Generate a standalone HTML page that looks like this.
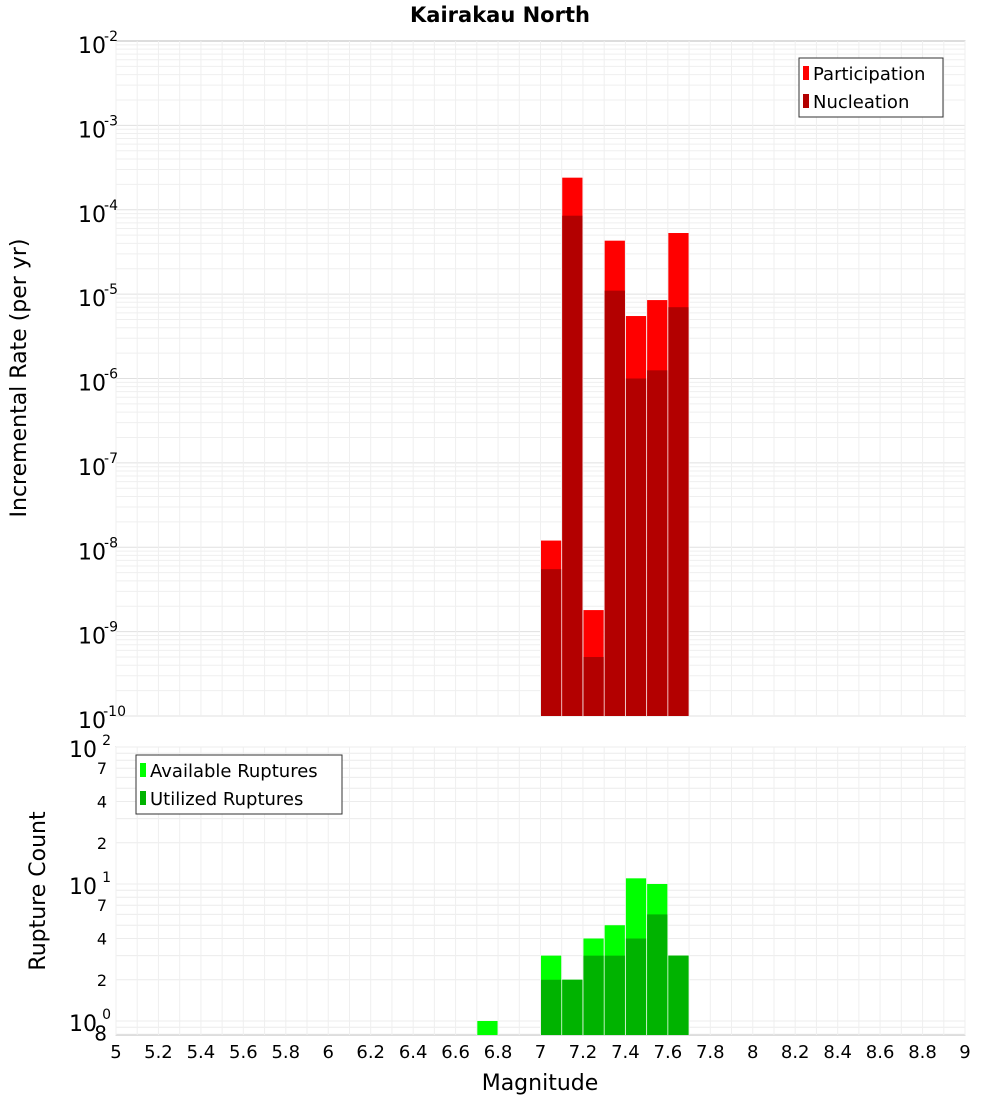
<!DOCTYPE html>
<html><head><meta charset="utf-8"><style>
body{margin:0;background:#fff;font-family:"Liberation Sans","DejaVu Sans",sans-serif}
</style></head><body>
<svg id="c" width="1000" height="1100" xmlns="http://www.w3.org/2000/svg" font-family="DejaVu Sans, Liberation Sans, sans-serif"></svg>
<script>
const binCenters=[7.05,7.15,7.25,7.35,7.45,7.55,7.65];
const participation=[1.2e-8,2.4e-4,1.8e-9,4.3e-5,5.5e-6,8.5e-6,5.3e-5];
const nucleation=[5.5e-9,8.5e-5,5e-10,1.1e-5,1e-6,1.25e-6,7e-6];
const countBins=[6.75,7.05,7.15,7.25,7.35,7.45,7.55,7.65];
const available=[1,3,2,4,5,11,10,3];
const utilized=[0,2,2,3,3,4,6,3];
const xTicks=[5,5.2,5.4,5.6,5.8,6,6.2,6.4,6.6,6.8,7,7.2,7.4,7.6,7.8,8,8.2,8.4,8.6,8.8,9];

const svg=document.getElementById('c');const NS='http://www.w3.org/2000/svg';
function el(t,a,p){const e=document.createElementNS(NS,t);for(const k in a)e.setAttribute(k,a[k]);(p||svg).appendChild(e);return e;}
const X0=116,X1=965;
const xs=m=>X0+(m-5)/4*(X1-X0);
const T0=41,T1=716;
const ty=v=>T0+(-2-Math.log10(v))*(T1-T0)/8;
const B0=747,B1=1035,DEC=137;
const by=v=>B0+(2-Math.log10(v))*DEC;
const bw=(X1-X0)/40;

// panels
let g=el('g',{});
el('rect',{x:X0,y:T0,width:X1-X0,height:T1-T0,fill:'#fff',stroke:'#bbb'},g);
for(let d=-10;d<-2;d++)for(let k=1;k<10;k++){const y=ty(k*Math.pow(10,d));el('line',{x1:X0,x2:X1,y1:y,y2:y,stroke:k==1?'#e0e0e0':'#efefef'},g);}
for(let m=5;m<=9.001;m+=0.1){const x=xs(m);el('line',{x1:x,x2:x,y1:T0,y2:T1,stroke:'#efefef'},g);}
binCenters.forEach((c,i)=>{
 const x=xs(c)-bw/2+0.5;
 const r=el('rect',{x:x,y:ty(participation[i]),width:bw-1,height:T1-ty(participation[i]),fill:'#ff0000'},g);
 
 const n=el('rect',{x:x,y:ty(nucleation[i]),width:bw-1,height:T1-ty(nucleation[i]),fill:'#b30000'},g);
 
});
for(let d=-10;d<=-2;d++){const y=ty(Math.pow(10,d));
 const t=el('text',{x:X0-10,y:y+12,'text-anchor':'end','font-size':22},g);t.textContent='10';
 
 const s=el('text',{x:X0-15,y:y,'text-anchor':'start','font-size':14},g);s.textContent=String(d);
 s.setAttribute('x',X0-14);s.setAttribute('text-anchor','end');s.setAttribute('x',X0+(String(d).length*8)-14);
}
// legend top
let lg=el('g',{});
el('rect',{x:799,y:58,width:144,height:59,fill:'#fff',stroke:'#333'},lg);
el('rect',{x:803,y:66,width:6,height:14,fill:'#ff0000'},lg);
el('rect',{x:803,y:94,width:6,height:14,fill:'#b30000'},lg);
let t=el('text',{x:813,y:80,'font-size':18},lg);t.textContent='Participation';
t=el('text',{x:813,y:108,'font-size':18},lg);t.textContent='Nucleation';

// bottom
let g2=el('g',{});
el('rect',{x:X0,y:B0,width:X1-X0,height:B1-B0,fill:'#fff',stroke:'#bbb'},g2);
[1,2,3,4,5,6,7,8,9,10,20,30,40,50,60,70,80,90,100,0.8,0.9].forEach(v=>{const y=by(v);el('line',{x1:X0,x2:X1,y1:y,y2:y,stroke:'#ececec'},g2);});
for(let m=5;m<=9.001;m+=0.1){const x=xs(m);el('line',{x1:x,x2:x,y1:B0,y2:B1,stroke:'#efefef'},g2);}
countBins.forEach((c,i)=>{
 const x=xs(c)-bw/2+0.5;
 if(available[i]>0){const r=el('rect',{x:x,y:by(available[i]),width:bw-1,height:B1-by(available[i]),fill:'#00ff00'},g2);
 }
 if(utilized[i]>0){const n=el('rect',{x:x,y:by(utilized[i]),width:bw-1,height:B1-by(utilized[i]),fill:'#00b300'},g2);
 }
});
[[100,'10','2'],[10,'10','1'],[1,'10','0']].forEach(a=>{const y=by(a[0]);
 let t=el('text',{x:X0-19,y:y+10,'text-anchor':'end','font-size':22},g2);t.textContent=a[1];
 t=el('text',{x:X0-5,y:y-2,'text-anchor':'end','font-size':14},g2);t.textContent=a[2];});
[[70,'7'],[40,'4'],[20,'2'],[7,'7'],[4,'4'],[2,'2'],[0.8,'8']].forEach(a=>{const y=by(a[0]);
 const t=el('text',{x:X0-9,y:y+6,'text-anchor':'end','font-size':a[0]==0.8?20:16},g2);t.textContent=a[1];});
xTicks.forEach(v=>{const t=el('text',{x:xs(v),y:1058,'text-anchor':'middle','font-size':18});t.textContent=String(v);
 });
let lg2=el('g',{});
el('rect',{x:136,y:755,width:206,height:59,fill:'#fff',stroke:'#333'},lg2);
el('rect',{x:140,y:763,width:6,height:14,fill:'#00ff00'},lg2);
el('rect',{x:140,y:791,width:6,height:14,fill:'#00b300'},lg2);
t=el('text',{x:150,y:777,'font-size':18},lg2);t.textContent='Available Ruptures';
t=el('text',{x:150,y:805,'font-size':18},lg2);t.textContent='Utilized Ruptures';

t=el('text',{x:500,y:22,'text-anchor':'middle','font-size':21,'font-weight':'bold'});t.textContent='Kairakau North';

t=el('text',{x:540,y:1090,'text-anchor':'middle','font-size':22});t.textContent='Magnitude';

t=el('text',{x:0,y:0,'text-anchor':'middle','font-size':22,transform:'translate(26,378) rotate(-90)'});t.textContent='Incremental Rate (per yr)';

t=el('text',{x:0,y:0,'text-anchor':'middle','font-size':22,transform:'translate(45,891) rotate(-90)'});t.textContent='Rupture Count';

</script>
</body></html>
